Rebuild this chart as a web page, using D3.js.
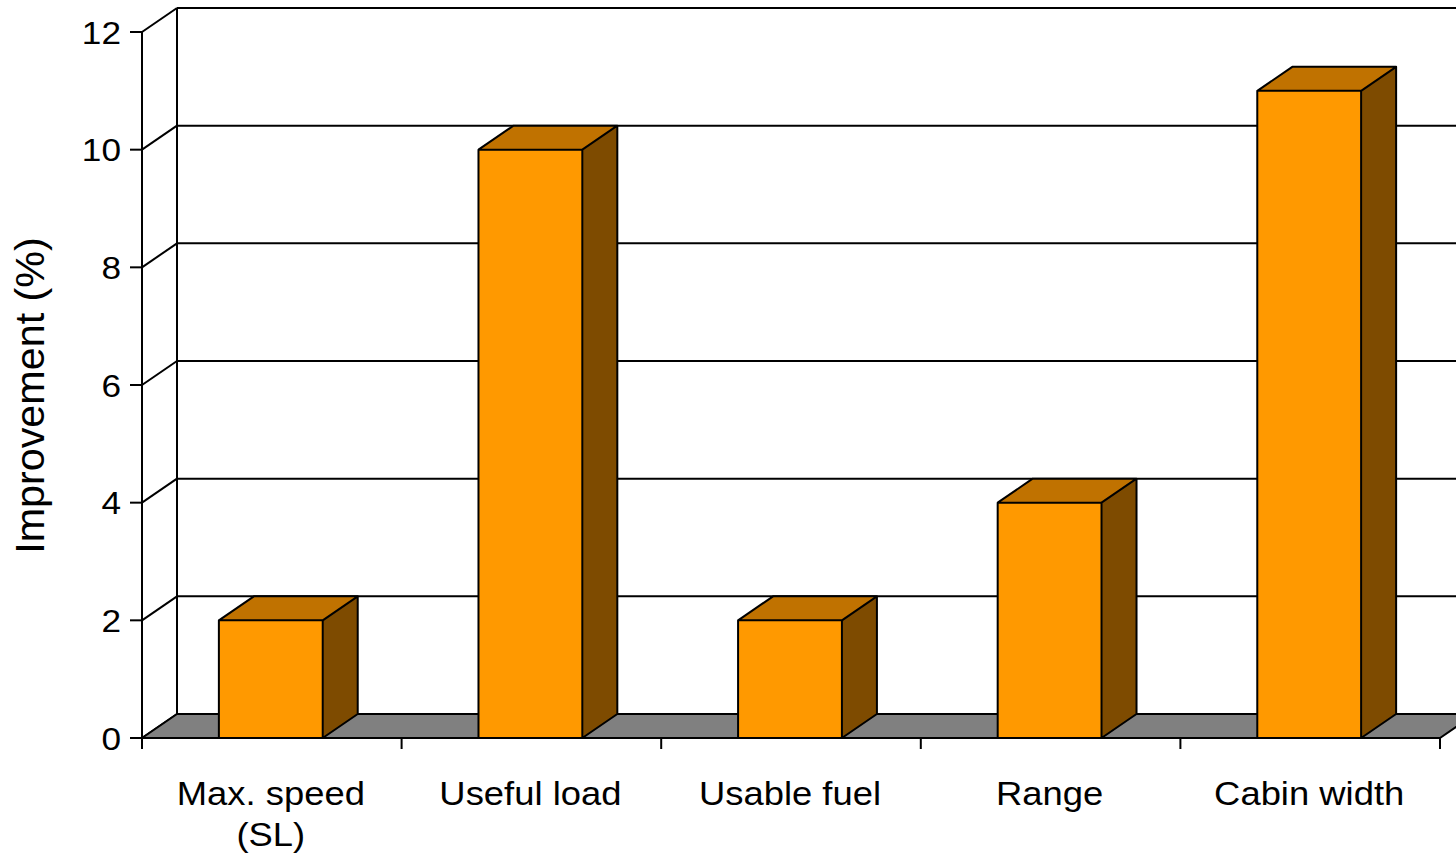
<!DOCTYPE html>
<html>
<head>
<meta charset="utf-8">
<script src="https://cdn.jsdelivr.net/npm/d3@7"></script>
<style>
  html, body { margin: 0; padding: 0; background: #fff; }
  svg { display: block; }
  text { font-family: Arial, "Liberation Sans", sans-serif; fill: #000; }
</style>
</head>
<body>
<svg id="chart" width="1456" height="856"></svg>
<script>
// Categories (multi-line labels split on "\n") and their improvement values (%)
const categories = ["Max. speed\n(SL)", "Useful load", "Usable fuel", "Range", "Cabin width"];
const improvement = [2, 10, 2, 4, 11];
const yTicks = [0, 2, 4, 6, 8, 10, 12];
const yTitle = "Improvement (%)";

const W = 1456, H = 856;
const plot = { left: 142, right: 1440, top: 32, bottom: 738 };
const depth = { dx: 35, dy: 24 };   // oblique offset of the 3D back plane

const colors = {
  front: "#FF9900",
  top: "#C07200",
  side: "#7E4B00",
  floor: "#808080",
  line: "#000"
};

const svg = d3.select("#chart");

const y = d3.scaleLinear().domain([0, 12]).range([plot.bottom, plot.top]);
const x = d3.scaleBand().domain(categories).range([plot.left, plot.right]).padding(0);

const g = svg.append("g");

// Back wall: gridlines at each tick
g.selectAll("line.grid")
  .data(yTicks.filter(t => t > 0))
  .join("line")
  .attr("class", "grid")
  .attr("x1", plot.left + depth.dx)
  .attr("x2", W + 50)
  .attr("y1", d => y(d) - depth.dy)
  .attr("y2", d => y(d) - depth.dy)
  .attr("stroke", colors.line)
  .attr("stroke-width", 2);

// Side wall: diagonals joining the front axis to the back wall
g.selectAll("line.diag")
  .data(yTicks)
  .join("line")
  .attr("class", "diag")
  .attr("x1", plot.left)
  .attr("y1", d => y(d))
  .attr("x2", plot.left + depth.dx)
  .attr("y2", d => y(d) - depth.dy)
  .attr("stroke", colors.line)
  .attr("stroke-width", 2);

// Back wall left edge
g.append("line")
  .attr("x1", plot.left + depth.dx).attr("x2", plot.left + depth.dx)
  .attr("y1", y(12) - depth.dy).attr("y2", y(0) - depth.dy)
  .attr("stroke", colors.line).attr("stroke-width", 2);

// Floor
const y0 = y(0);
g.append("path")
  .attr("d", `M${plot.left},${y0} L${plot.right},${y0} L${plot.right + depth.dx},${y0 - depth.dy} L${plot.left + depth.dx},${y0 - depth.dy} Z`)
  .attr("fill", colors.floor)
  .attr("stroke", colors.line)
  .attr("stroke-width", 2)
  .attr("stroke-linejoin", "round");

// Bars: side, top, then front face
const barW = x.bandwidth() * 0.4;
const bars = g.selectAll("g.bar")
  .data(categories.map((c, i) => ({ c, v: improvement[i] })))
  .join("g")
  .attr("class", "bar");

bars.each(function(d) {
  const b = d3.select(this);
  const x0 = x(d.c) + (x.bandwidth() - barW) / 2 - 1;
  const x1 = x0 + barW;
  const yt = y(d.v);
  const { dx, dy } = depth;
  b.append("path")
    .attr("d", `M${x1},${y0} L${x1 + dx},${y0 - dy} L${x1 + dx},${yt - dy} L${x1},${yt} Z`)
    .attr("fill", colors.side);
  b.append("path")
    .attr("d", `M${x0},${yt} L${x0 + dx},${yt - dy} L${x1 + dx},${yt - dy} L${x1},${yt} Z`)
    .attr("fill", colors.top);
  b.append("rect")
    .attr("x", x0).attr("y", yt)
    .attr("width", barW).attr("height", y0 - yt)
    .attr("fill", colors.front);
  // outlines
  b.append("path")
    .attr("d", `M${x0},${y0} L${x0},${yt} L${x1},${yt} L${x1},${y0} Z
                M${x0},${yt} L${x0 + dx},${yt - dy} L${x1 + dx},${yt - dy} L${x1},${yt}
                M${x1 + dx},${yt - dy} L${x1 + dx},${y0 - dy} L${x1},${y0}`)
    .attr("fill", "none")
    .attr("stroke", colors.line)
    .attr("stroke-width", 2)
    .attr("stroke-linejoin", "round");
});

// Front axes
g.append("line")
  .attr("x1", plot.left).attr("x2", plot.left)
  .attr("y1", y(12)).attr("y2", y0 + 11)
  .attr("stroke", colors.line).attr("stroke-width", 2);
g.append("line")
  .attr("x1", plot.left).attr("x2", plot.right)
  .attr("y1", y0).attr("y2", y0)
  .attr("stroke", colors.line).attr("stroke-width", 2);

// Y ticks and labels
g.selectAll("line.ytick")
  .data(yTicks)
  .join("line")
  .attr("class", "ytick")
  .attr("x1", plot.left - 12).attr("x2", plot.left)
  .attr("y1", d => y(d)).attr("y2", d => y(d))
  .attr("stroke", colors.line).attr("stroke-width", 2);

g.selectAll("text.ylab")
  .data(yTicks)
  .join("text")
  .attr("class", "ylab")
  .attr("transform", d => `translate(121,${y(d) + 11.5}) scale(1.1,1)`)
  .attr("text-anchor", "end")
  .style("font-size", "32px")
  .text(d => d);

// X ticks at category boundaries
const bounds = categories.map(c => x(c)).concat([plot.right]).slice(1);
g.selectAll("line.xtick")
  .data(bounds)
  .join("line")
  .attr("class", "xtick")
  .attr("x1", d => d).attr("x2", d => d)
  .attr("y1", y0).attr("y2", y0 + 11)
  .attr("stroke", colors.line).attr("stroke-width", 2);

// Category labels
categories.forEach(c => {
  const cx = x(c) + x.bandwidth() / 2 - 1;
  const t = g.append("text")
    .attr("transform", `translate(${cx},805) scale(1.12,1)`)
    .attr("text-anchor", "middle")
    .style("font-size", "32.5px");
  c.split("\n").forEach((line, i) => {
    t.append("tspan").attr("x", 0).attr("y", i * 41).text(line);
  });
});

// Y axis title
g.append("text")
  .attr("transform", `translate(44,395.5) rotate(-90)`)
  .attr("text-anchor", "middle")
  .style("font-size", "41.3px")
  .text(yTitle);
</script>
</body>
</html>
